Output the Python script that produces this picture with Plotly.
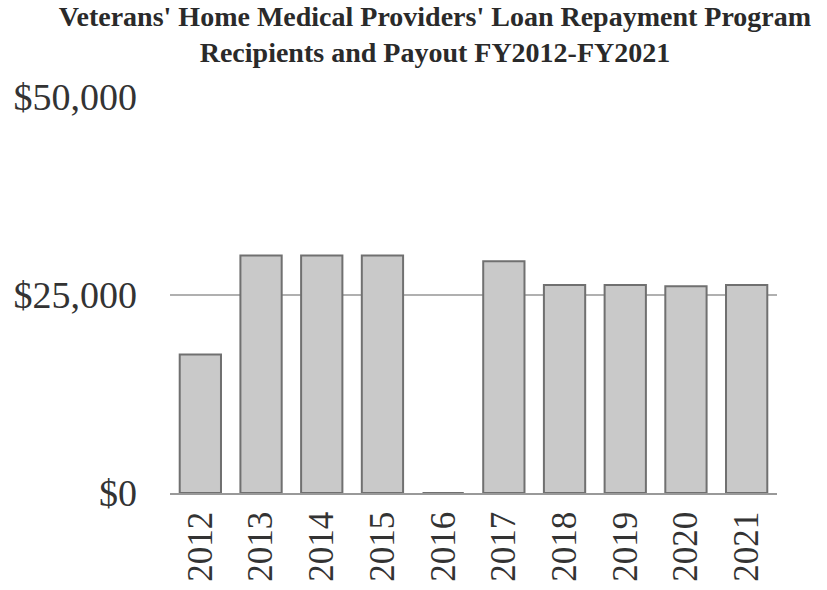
import plotly.graph_objects as go

years = ["2012", "2013", "2014", "2015", "2016", "2017", "2018", "2019", "2020", "2021"]
payout = [17500, 30000, 30000, 30000, 0, 29250, 26250, 26250, 26100, 26250]
y_ticks = [0, 25000, 50000]
y_tick_labels = ["$0", "$25,000", "$50,000"]

SERIF = "Liberation Serif, Times New Roman, serif"

fig = go.Figure()
fig.add_trace(go.Bar(
    x=years, y=payout,
    marker=dict(color="#c9c9c9", line=dict(color="#707070", width=2)),
    width=0.68,
))

fig.update_layout(
    width=827, height=590,
    paper_bgcolor="white", plot_bgcolor="white",
    margin=dict(l=170, r=50, t=97, b=97, autoexpand=False),
    title=dict(
        text="Veterans' Home Medical Providers' Loan Repayment Program<br>Recipients and Payout FY2012-FY2021",
        x=435 / 827, xanchor="center", xref="container",
        yref="container", y=1 - 26 / 590, yanchor="middle",
        pad=dict(t=0, b=0, l=0, r=0),
        font=dict(family=SERIF, size=28, color="#2a2a2a", weight="bold"),
    ),
    showlegend=False,
    font=dict(family=SERIF, color="#333333"),
)
fig.update_yaxes(
    range=[0, 50000], tickvals=y_ticks, ticktext=y_tick_labels,
    tickfont=dict(size=38, color="#333333"),
    showgrid=True, gridcolor="#b0b0b0", gridwidth=1.5,
    zeroline=False, showline=False, ticks="",
    ticklabelstandoff=32, automargin=False,
)
fig.update_xaxes(
    tickangle=-90, tickfont=dict(size=35, color="#333333"),
    showline=True, linecolor="#999999", linewidth=1.5,
    ticks="", ticklabelstandoff=3, automargin=False,
)

fig.write_html("out.html", config={"displayModeBar": False},
               post_script="document.body.style.margin='0';")
